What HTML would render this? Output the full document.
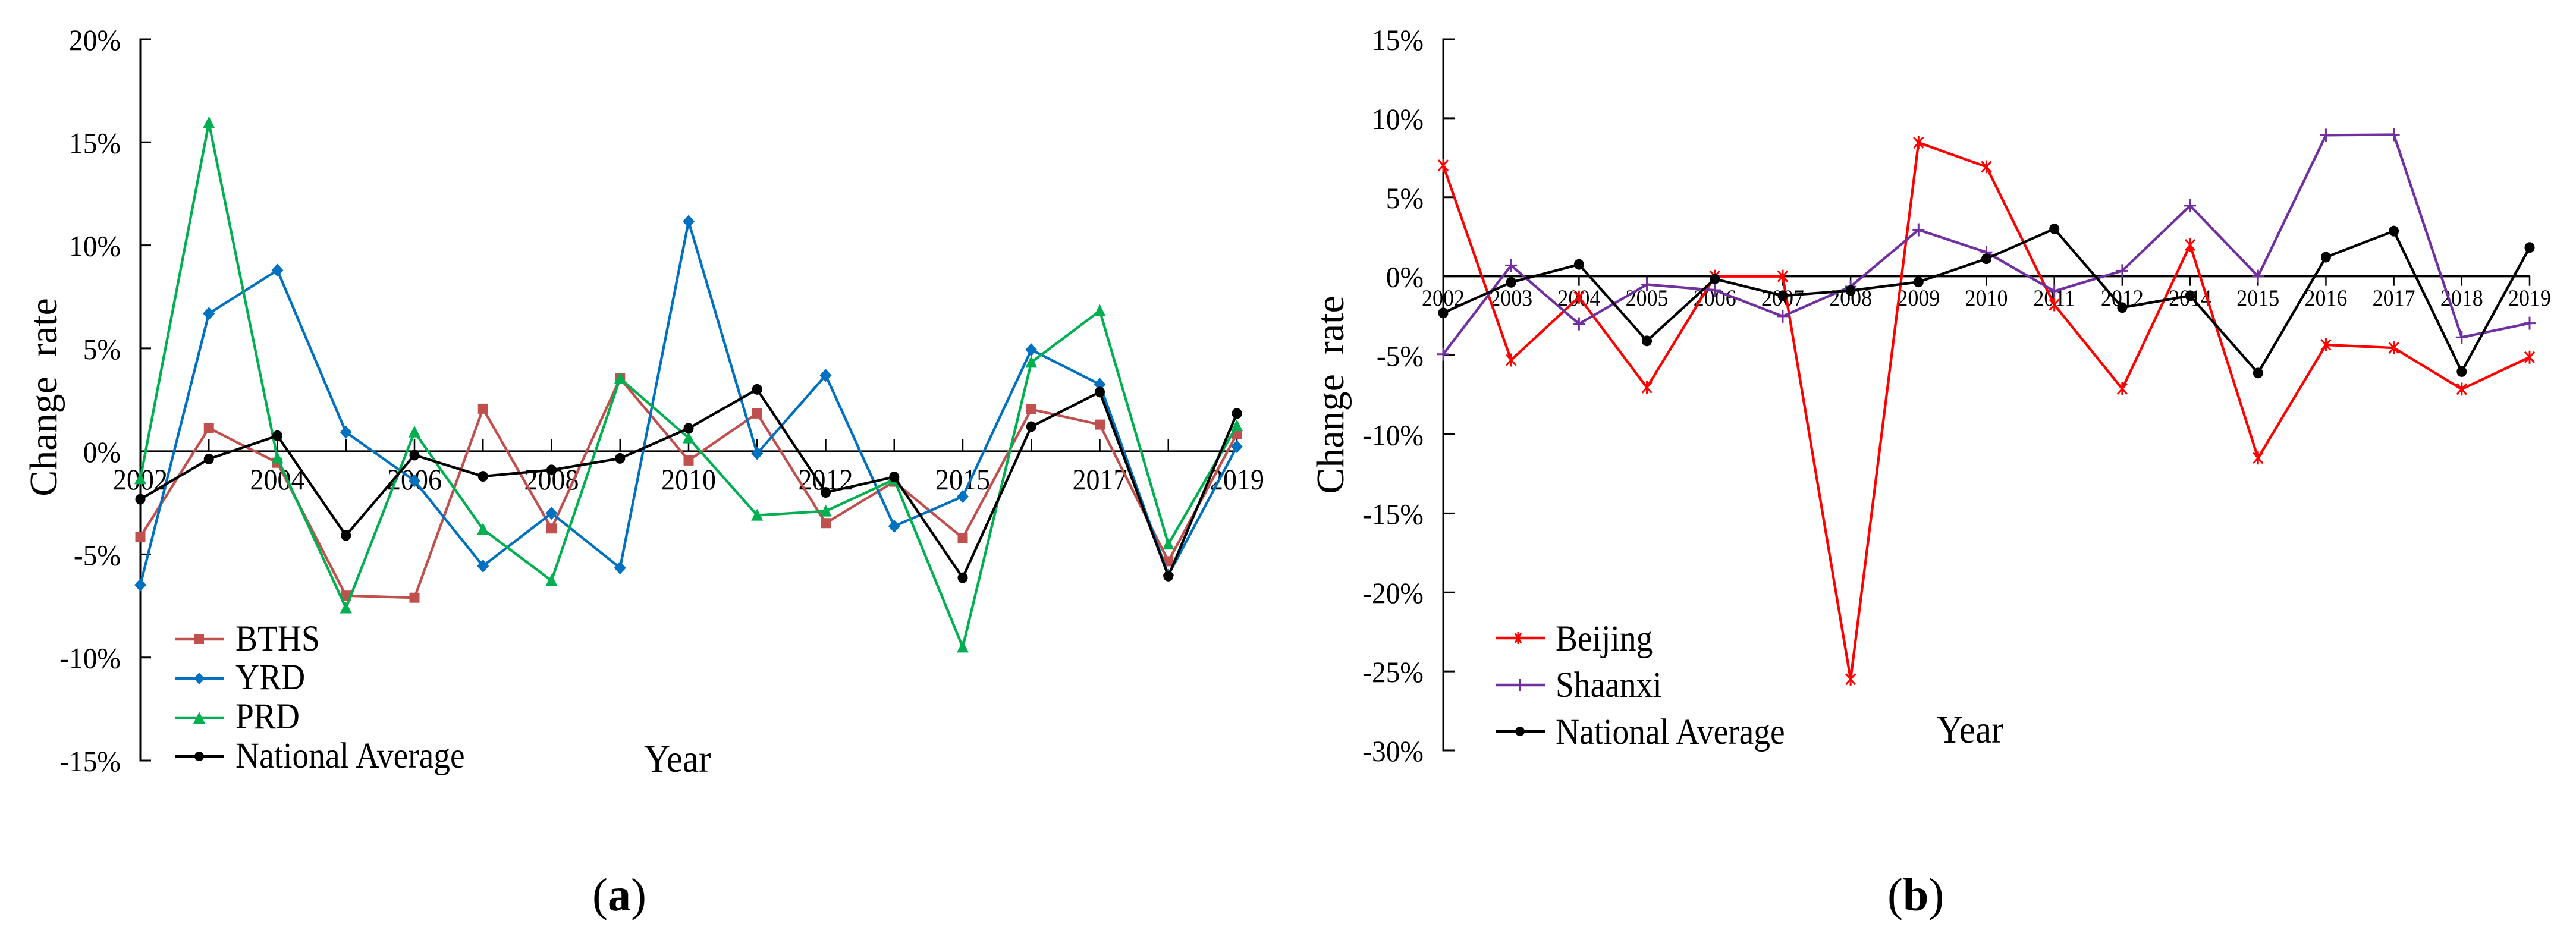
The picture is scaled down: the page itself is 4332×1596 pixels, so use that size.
<!DOCTYPE html>
<html lang="en">
<head>
<meta charset="utf-8">
<title>Change rate charts</title>
<style>
html,body{margin:0;padding:0;background:#fff;width:4332px;height:1596px;overflow:hidden}
svg{display:block}
text{font-family:"Liberation Serif","Times New Roman",serif;fill:#000;white-space:pre}
</style>
</head>
<body>
<svg id="figure" xmlns="http://www.w3.org/2000/svg" width="4332" height="1596" viewBox="0 0 4332 1596">
  <rect x="0" y="0" width="4332" height="1596" fill="#fff"/>
  <g id="panelA">
    <text transform="translate(95 668) rotate(-90)" text-anchor="middle" font-size="66">Change  rate</text>
    <text transform="translate(1083 1298) scale(1 1.08)" font-size="61">Year</text>
    <text x="996" y="1531" font-size="78">(<tspan font-weight="bold">a</tspan>)</text>
  </g>
  <g id="panelB">
    <text transform="translate(2259 664) rotate(-90)" text-anchor="middle" font-size="66">Change  rate</text>
    <text transform="translate(3257 1249) scale(1 1.08)" font-size="61">Year</text>
    <text x="3174" y="1531" font-size="78">(<tspan font-weight="bold">b</tspan>)</text>
  </g>
  <g id="legendA">
    <g>
      <line x1="294" y1="1075" x2="377" y2="1075" stroke="#C0504D" stroke-width="4.5"/>
      <rect x="327" y="1067" width="16" height="16" fill="#C0504D"/>
      <text transform="translate(396 1094) scale(1 1.1)" font-size="55.5">BTHS</text>
    </g>
    <g>
      <line x1="294" y1="1141" x2="377" y2="1141" stroke="#0070C0" stroke-width="4.5"/>
      <polygon points="335,1131 344,1141 335,1151 326,1141" fill="#0070C0"/>
      <text transform="translate(396 1159) scale(1 1.1)" font-size="55.5">YRD</text>
    </g>
    <g>
      <line x1="294" y1="1207" x2="377" y2="1207" stroke="#00B050" stroke-width="4.5"/>
      <polygon points="335,1197 345,1217 325,1217" fill="#00B050"/>
      <text transform="translate(396 1225) scale(1 1.1)" font-size="55.5">PRD</text>
    </g>
    <g>
      <line x1="294" y1="1272" x2="377" y2="1272" stroke="#000" stroke-width="4.5"/>
      <circle cx="335" cy="1272" r="8" fill="#000"/>
      <text transform="translate(396 1291) scale(1 1.1)" font-size="55.5">National Average</text>
    </g>
  </g>
  <g id="legendB">
    <g>
      <line x1="2515" y1="1073" x2="2598" y2="1073" stroke="#FF0000" stroke-width="4.5"/>
      <path d="M2548 1065L2558 1081M2558 1065L2548 1081M2553 1063V1083" stroke="#FF0000" stroke-width="3" fill="none"/>
      <text transform="translate(2616 1094) scale(1 1.1)" font-size="55.5">Beijing</text>
    </g>
    <g>
      <line x1="2515" y1="1152" x2="2598" y2="1152" stroke="#7030A0" stroke-width="4.5"/>
      <path d="M2556 1142V1162" stroke="#7030A0" stroke-width="3" fill="none"/>
      <text transform="translate(2616 1172) scale(1 1.1)" font-size="55.5">Shaanxi</text>
    </g>
    <g>
      <line x1="2515" y1="1230" x2="2598" y2="1230" stroke="#000" stroke-width="4.5"/>
      <circle cx="2556" cy="1230" r="8" fill="#000"/>
      <text transform="translate(2616 1251) scale(1 1.1)" font-size="55.5">National Average</text>
    </g>
  </g>
</svg>
<script>
// ---- Panel (a) data ----
const categoriesA = ['2002','2003','2004','2005','2006','2007','2008','2009','2010','2011','2012','2014','2015','2016','2017','2018','2019'];
const xTickLabelsA = ['2002','','2004','','2006','','2008','','2010','','2012','','2015','','2017','','2019'];
const yTickValuesA = [20,15,10,5,0,-5,-10,-15];
const bthsValues = [-4.15,1.13,-0.55,-7.0,-7.1,2.07,-3.74,3.54,-0.44,1.84,-3.48,-1.47,-4.2,2.04,1.3,-5.33,0.84];
const yrdValues = [-6.48,6.69,8.79,0.93,-1.42,-5.56,-3.0,-5.65,11.16,-0.1,3.69,-3.63,-2.19,4.93,3.25,-6.0,0.23];
const prdValues = [-1.33,15.95,-0.32,-7.6,0.94,-3.78,-6.27,3.54,0.65,-3.1,-2.9,-1.36,-9.5,4.32,6.82,-4.5,1.24];
const nationalValuesA = [-2.32,-0.37,0.76,-4.08,-0.18,-1.21,-0.9,-0.34,1.12,3.01,-1.99,-1.24,-6.13,1.2,2.88,-6.05,1.84];

// ---- Panel (b) data ----
const categoriesB = ['2002','2003','2004','2005','2006','2007','2008','2009','2010','2011','2012','2014','2015','2016','2017','2018','2019'];
const yTickValuesB = [15,10,5,0,-5,-10,-15,-20,-25,-30];
const beijingValues = [7.02,-5.3,-1.32,-7.04,0,0,-25.5,8.46,6.93,-1.8,-7.12,1.98,-11.5,-4.34,-4.53,-7.14,-5.12];
const shaanxiValues = [-4.93,0.69,-3.01,-0.52,-0.88,-2.53,-0.65,2.94,1.52,-0.94,0.35,4.47,0,8.93,8.96,-3.86,-2.97];
const nationalValuesB = [-2.32,-0.38,0.75,-4.09,-0.17,-1.23,-0.9,-0.36,1.11,3.0,-1.98,-1.23,-6.12,1.21,2.86,-6.03,1.82];

const NS = 'http://www.w3.org/2000/svg';

function make(parent, tag, attrs) {
  const el = document.createElementNS(NS, tag);
  for (const k in attrs) el.setAttribute(k, attrs[k]);
  parent.appendChild(el);
  return el;
}

function linear(d0, d1, r0, r1) {
  return function (v) { return r0 + (v - d0) * (r1 - r0) / (d1 - d0); };
}

function drawAxes(g, key, xScale, yScale, categories, xLabels, yTicks, o) {
  const axisX = xScale(0);
  const y0 = yScale(0);
  const yAxis = make(g, 'line', {x1: axisX, x2: axisX, y1: yScale(yTicks[0]) - 1.5, y2: yScale(yTicks[yTicks.length - 1]) + 1.5, stroke: '#000', 'stroke-width': 3});
  
  
  const xAxis = make(g, 'line', {x1: axisX, x2: xScale(categories.length - 1), y1: y0, y2: y0, stroke: '#000', 'stroke-width': 3.5});
  
  
  yTicks.forEach(function (t) {
    const tick = make(g, 'line', {x1: axisX, x2: axisX + o.yTickLen, y1: yScale(t), y2: yScale(t), stroke: '#000', 'stroke-width': 3});
    
    
    const lab = make(g, 'text', {transform: 'translate(' + o.yLabelRight + ' ' + (yScale(t) + 18) + ') scale(1 1.05)', 'text-anchor': 'end', 'font-size': 47.5});
    lab.textContent = t + '%';
    
    
  });
  categories.forEach(function (c, i) {
    const x = xScale(i);
    const tick = make(g, 'line', {x1: x, x2: x, y1: y0, y2: y0 + o.xTickLen, stroke: '#000', 'stroke-width': 2.5});
    
    
    if (xLabels[i]) {
      const lab = make(g, 'text', {transform: 'translate(' + x + ' ' + o.xLabelY + ') scale(1 ' + o.xLabelStretch + ')', 'text-anchor': 'middle', 'font-size': o.xLabelSize});
      lab.textContent = xLabels[i];
      
      
    }
  });
}

function drawMarker(g, kind, x, y, color) {
  let el;
  if (kind === 'square') {
    el = make(g, 'rect', {x: x - 8.5, y: y - 8.5, width: 17, height: 17, fill: color});
  } else if (kind === 'diamond') {
    el = make(g, 'polygon', {points: [x, y - 11, x + 10, y, x, y + 11, x - 10, y].join(' '), fill: color});
  } else if (kind === 'triangle') {
    el = make(g, 'polygon', {points: [x, y - 11, x + 10, y + 9, x - 10, y + 9].join(' '), fill: color});
  } else if (kind === 'circle') {
    el = make(g, 'ellipse', {cx: x, cy: y, rx: 8.5, ry: 9, fill: color});
  } else if (kind === 'plus') {
    el = make(g, 'path', {d: 'M' + (x - 10) + ' ' + y + 'H' + (x + 10) + 'M' + x + ' ' + (y - 11) + 'V' + (y + 11), stroke: color, 'stroke-width': 3, fill: 'none'});
  } else {
    el = make(g, 'path', {d: 'M' + (x - 8) + ' ' + (y - 9) + 'L' + (x + 8) + ' ' + (y + 9) + 'M' + (x + 8) + ' ' + (y - 9) + 'L' + (x - 8) + ' ' + (y + 9) + 'M' + x + ' ' + (y - 11) + 'V' + (y + 11), stroke: color, 'stroke-width': 3, fill: 'none'});
  }
  return el;
}

function drawSeries(g, name, values, color, kind, xScale, yScale) {
  const pts = values.map(function (v, i) { return xScale(i) + ',' + yScale(v); }).join(' ');
  const line = make(g, 'polyline', {points: pts, fill: 'none', stroke: color, 'stroke-width': 4.3, 'stroke-linejoin': 'miter'});
  
  
  values.forEach(function (v, i) {
    const m = drawMarker(g, kind, xScale(i), yScale(v), color);
    
    
  });
}

// Panel (a)
const gA = document.getElementById('panelA');
const xA = linear(0, 16, 236, 2080);
const yA = linear(20, -15, 66, 1279);
drawAxes(gA, 'a', xA, yA, categoriesA, xTickLabelsA, yTickValuesA, {yTickLen: 18, yLabelRight: 203, xTickLen: -21, xLabelY: 823, xLabelSize: 46, xLabelStretch: 1.07});
drawSeries(gA, 'bths', bthsValues, '#C0504D', 'square', xA, yA);
drawSeries(gA, 'yrd', yrdValues, '#0070C0', 'diamond', xA, yA);
drawSeries(gA, 'prd', prdValues, '#00B050', 'triangle', xA, yA);
drawSeries(gA, 'national-average-a', nationalValuesA, '#000000', 'circle', xA, yA);

// Panel (b)
const gB = document.getElementById('panelB');
const xB = linear(0, 16, 2427, 4254);
const yB = linear(15, -30, 66, 1262);
drawAxes(gB, 'b', xB, yB, categoriesB, categoriesB, yTickValuesB, {yTickLen: 19, yLabelRight: 2394, xTickLen: 16, xLabelY: 514, xLabelSize: 36, xLabelStretch: 1.1});
drawSeries(gB, 'beijing', beijingValues, '#FF0000', 'star', xB, yB);
drawSeries(gB, 'shaanxi', shaanxiValues, '#7030A0', 'plus', xB, yB);
drawSeries(gB, 'national-average-b', nationalValuesB, '#000000', 'circle', xB, yB);
</script>
</body>
</html>
